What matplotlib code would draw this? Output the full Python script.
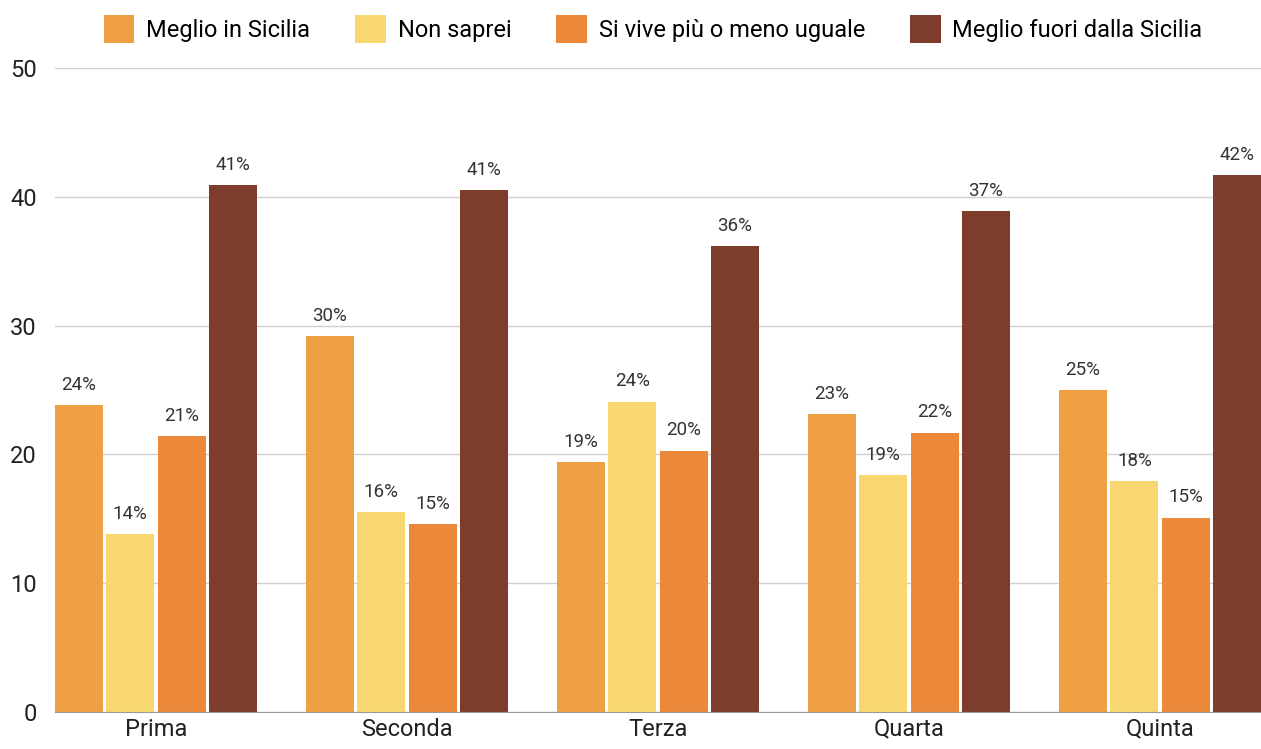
import matplotlib.pyplot as plt
import numpy as np

plt.rcParams['font.family'] = ['Roboto', 'DejaVu Sans']

categories = ['Prima', 'Seconda', 'Terza', 'Quarta', 'Quinta']
series_names = ['Meglio in Sicilia', 'Non saprei', 'Si vive più o meno uguale',
                'Meglio fuori dalla Sicilia']
meglio_sicilia = [23.8, 29.2, 19.4, 23.1, 25.0]
non_saprei = [13.8, 15.5, 24.1, 18.4, 17.9]
uguale = [21.4, 14.6, 20.3, 21.7, 15.1]
meglio_fuori = [40.9, 40.5, 36.2, 38.9, 41.7]
labels_sicilia = ['24%', '30%', '19%', '23%', '25%']
labels_non = ['14%', '16%', '24%', '19%', '18%']
labels_uguale = ['21%', '15%', '20%', '22%', '15%']
labels_fuori = ['41%', '41%', '36%', '37%', '42%']

colors = ['#F0A044', '#F9D770', '#EC883A', '#7E3D2B']

fig = plt.figure(figsize=(12.61, 7.49), dpi=100)
ax = fig.add_axes([55 / 1261, 37 / 749, 1 - 55 / 1261, 644 / 749])

x = np.arange(len(categories))
pitch = 0.2045
width = 0.191
all_vals = [meglio_sicilia, non_saprei, uguale, meglio_fuori]
all_labels = [labels_sicilia, labels_non, labels_uguale, labels_fuori]

for i, (vals, labs) in enumerate(zip(all_vals, all_labels)):
    pos = x + (i - 1.5) * pitch
    ax.bar(pos, vals, width, color=colors[i], label=series_names[i], zorder=3)
    for p, v, l in zip(pos, vals, labs):
        ax.annotate(l, (p, v), xytext=(0, 8), textcoords='offset points',
                    ha='center', va='bottom', fontsize=13.5, color='#333333')

ax.set_xlim(-0.402, 4.402)
ax.set_ylim(0, 50)
ax.set_yticks([0, 10, 20, 30, 40, 50])
ax.set_xticks(x)
ax.set_xticklabels(categories)
ax.tick_params(axis='both', length=0, labelsize=17, colors='#222222')
ax.tick_params(axis='y', pad=13)
ax.tick_params(axis='x', pad=4)
ax.grid(axis='y', color='#d0d0d0', linewidth=1, zorder=0)
for s in ['top', 'right', 'left']:
    ax.spines[s].set_visible(False)
ax.spines['bottom'].set_color('#999999')
ax.spines['bottom'].set_zorder(4)

fig.legend(loc='upper center', bbox_to_anchor=(0.518, 1.008), ncol=4,
           frameon=False, fontsize=17, handlelength=1.3, handleheight=1.4,
           columnspacing=1.9, handletextpad=0.5)

plt.savefig('out.png', dpi=100)
